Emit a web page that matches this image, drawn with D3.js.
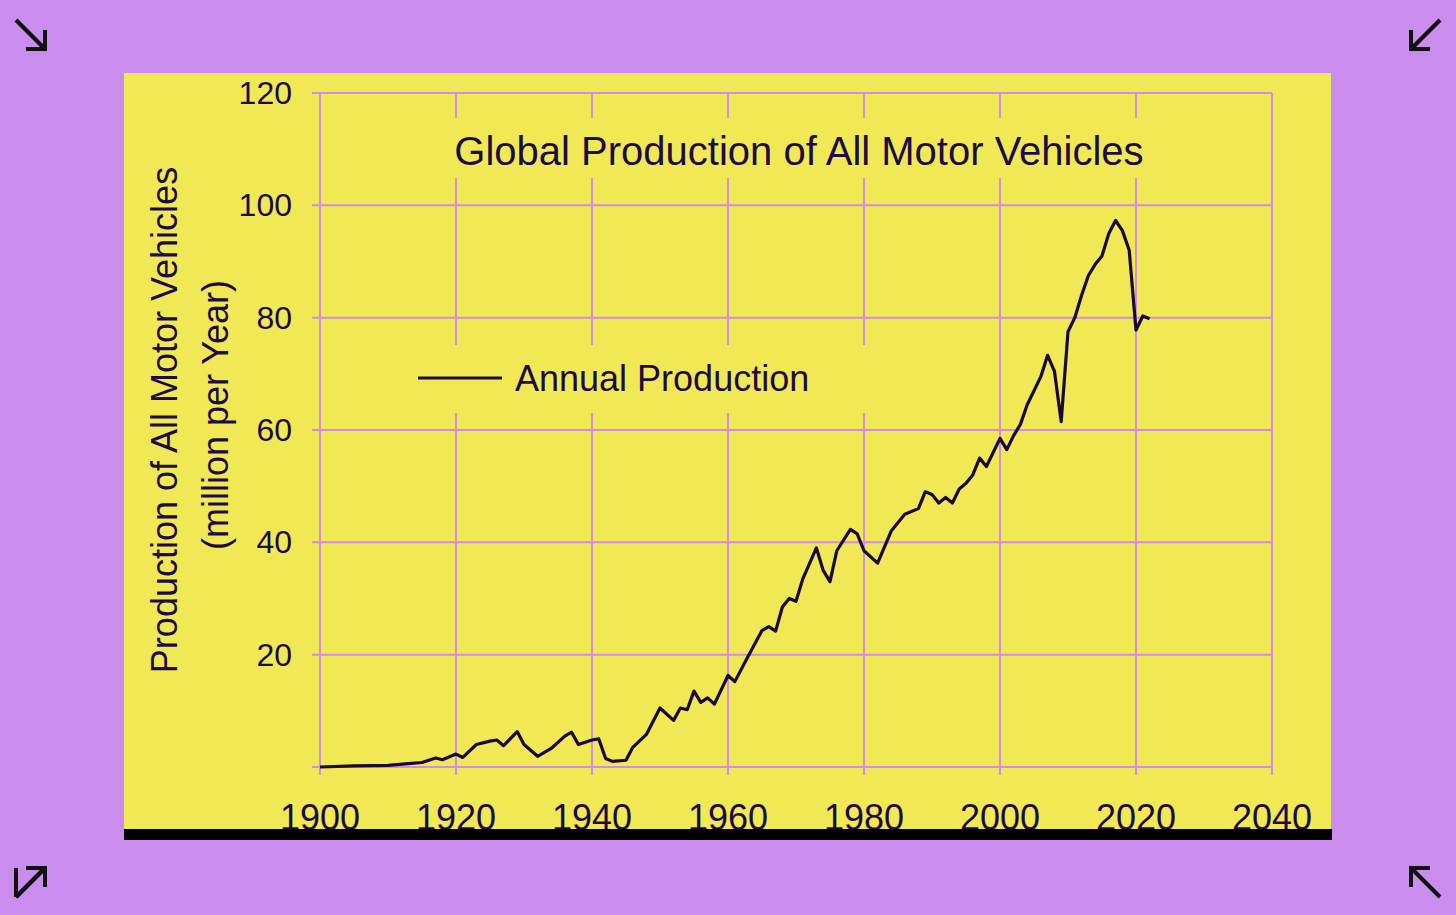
<!DOCTYPE html><html><head><meta charset="utf-8">
<script src="https://cdn.jsdelivr.net/npm/d3@7"></script>
<style>body{margin:0;background:#cb8ded}text{font-family:"Liberation Sans",Arial,sans-serif}</style></head><body>
<svg id="c" width="1456" height="915"></svg>
<script>
const years=[1900,1905,1910,1913,1915,1917,1918,1920,1921,1923,1925,1926,1927,1929,1930,1932,1934,1936,1937,1938,1940,1941,1942,1943,1945,1946,1948,1950,1952,1953,1954,1955,1956,1957,1958,1960,1961,1963,1965,1966,1967,1968,1969,1970,1971,1973,1974,1975,1976,1978,1979,1980,1982,1984,1986,1988,1989,1990,1991,1992,1993,1994,1995,1996,1997,1998,1999,2000,2001,2002,2003,2004,2005,2006,2007,2008,2009,2010,2011,2012,2013,2014,2015,2016,2017,2018,2019,2020,2021,2022];
const production=[0.0,0.2,0.3,0.6,0.8,1.6,1.3,2.3,1.7,4.0,4.6,4.8,3.8,6.3,4.0,1.9,3.3,5.5,6.2,4.0,4.8,5.0,1.5,1.0,1.2,3.5,5.8,10.5,8.3,10.5,10.2,13.5,11.5,12.3,11.2,16.3,15.2,19.8,24.3,25.0,24.2,28.5,30.0,29.5,33.5,39.0,35.0,33.0,38.5,42.3,41.5,38.5,36.3,42.0,45.0,46.0,49.0,48.5,47.0,48.0,47.0,49.5,50.5,52.0,55.0,53.5,56.0,58.5,56.5,59.0,61.0,64.5,67.0,69.5,73.3,70.5,61.5,77.5,80.0,84.0,87.5,89.5,91.0,95.0,97.3,95.5,92.0,77.8,80.3,79.8];
const xTicks=[1900,1920,1940,1960,1980,2000,2020,2040];
const yTicks=[20,40,60,80,100,120];
const svg=d3.select("#c");
const ink="#1c0b46",grid="#cc8ee8";
svg.append("rect").attr("x",124).attr("y",73).attr("width",1207).attr("height",767).attr("fill","#f0e854");
const x=d3.scaleLinear().domain([1900,2040]).range([320,1272]);
const y=d3.scaleLinear().domain([0,120]).range([767,93]);
const g=svg.append("g");
xTicks.forEach(t=>g.append("line").attr("x1",x(t)).attr("x2",x(t)).attr("y1",y(120)).attr("y2",y(0)+8).attr("stroke",grid).attr("stroke-width",2));
[0,...yTicks].forEach(t=>g.append("line").attr("x1",x(1900)-8).attr("x2",x(2040)).attr("y1",y(t)).attr("y2",y(t)).attr("stroke",grid).attr("stroke-width",2));
yTicks.forEach(t=>g.append("text").attr("x",x(1900)-28).attr("y",y(t)+11).attr("text-anchor","end").attr("font-size",32).attr("fill",ink).text(t));
xTicks.forEach(t=>g.append("text").attr("x",x(t)).attr("y",830).attr("text-anchor","middle").attr("font-size",36).attr("fill",ink).text(t));
svg.append("rect").attr("x",124).attr("y",829).attr("width",1208).attr("height",11).attr("fill","#000");
// title bg
svg.append("rect").attr("x",385).attr("y",118).attr("width",830).attr("height",60).attr("fill","#f0e854");
svg.append("text").attr("x",799).attr("y",165).attr("text-anchor","middle").attr("font-size",40).attr("fill",ink).text("Global Production of All Motor Vehicles");
svg.append("rect").attr("x",405).attr("y",345).attr("width",465).attr("height",68).attr("fill","#f0e854");
svg.append("line").attr("x1",418).attr("x2",502).attr("y1",378).attr("y2",378).attr("stroke",ink).attr("stroke-width",3);
svg.append("text").attr("x",515).attr("y",391).attr("font-size",36).attr("fill",ink).text("Annual Production");
svg.append("text").attr("transform","translate(177,420) rotate(-90)").attr("text-anchor","middle").attr("font-size",36).attr("fill",ink).text("Production of All Motor Vehicles");
svg.append("text").attr("transform","translate(228,415) rotate(-90)").attr("text-anchor","middle").attr("font-size",36).attr("fill",ink).text("(million per Year)");
const line=d3.line().x((d,i)=>x(years[i])).y(d=>y(d));
svg.append("path").attr("d",line(production)).attr("fill","none").attr("stroke","#1a0838").attr("stroke-width",3.2).attr("stroke-linejoin","round");
// corner arrows
const ar=(x1,y1,x2,y2,h1,h2)=>{const p=svg.append("g").attr("stroke","#111").attr("stroke-width",4).attr("fill","none");
p.append("line").attr("x1",x1).attr("y1",y1).attr("x2",x2).attr("y2",y2);
p.append("polyline").attr("points",`${h1[0]},${h1[1]} ${x2},${y2} ${h2[0]},${h2[1]}`);};
ar(16,20,45,49,[45,30],[26,49]);
ar(1440,20,1411,49,[1411,30],[1430,49]);
ar(45,868,16,897,[16,868],[16,868]);
svg.select("g:last-child");
ar(16,897,45,868,[26,868],[45,887]);
ar(1440,897,1411,868,[1430,868],[1411,887]);
</script></body></html>
